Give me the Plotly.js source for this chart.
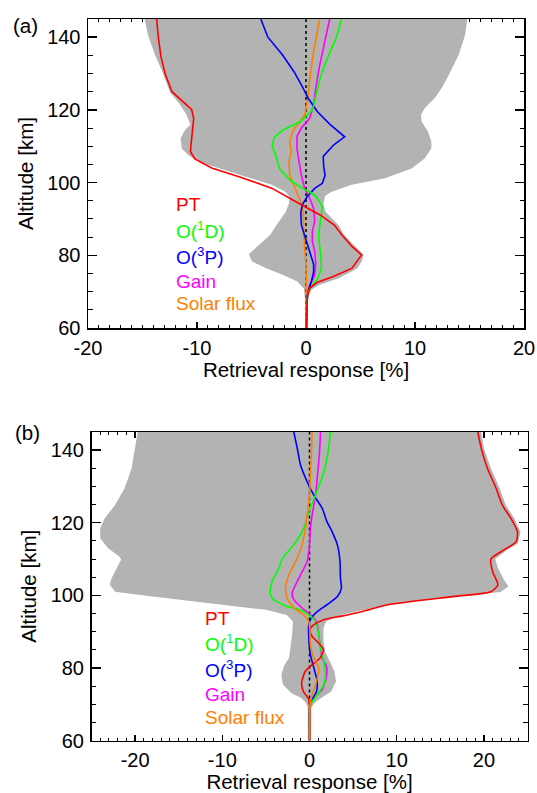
<!DOCTYPE html>
<html>
<head>
<meta charset="utf-8">
<script src="https://cdn.plot.ly/plotly-3.0.1.min.js"></script>
<style>html,body{margin:0;padding:0;background:#fff;}#chart{width:537px;height:793px;}</style>
</head>
<body>
<div id="chart"></div>
<script>
// ---------- Tick labels ----------
const xTickValsA = [-20, -10, 0, 10, 20];
const xTickTextA = ['-20', '-10', '0', '10', '20'];
const xTickValsB = [-20, -10, 0, 10, 20];
const xTickTextB = ['-20', '-10', '0', '10', '20'];
const yTickVals = [60, 80, 100, 120, 140];
const yTickText = ['60', '80', '100', '120', '140'];
const seriesNames = ['PT', 'O(<sup>1</sup>D)', 'O(<sup>3</sup>P)', 'Gain', 'Solar flux'];

// ---------- Panel (a) ----------
const ptA_alt = [145, 140, 134.5, 129.7, 125, 120.1, 117.7, 114, 110.4, 108.5, 106.5, 104, 101.5, 98.4, 95.8, 93.9, 91.1, 88.3, 85.6, 82.5, 80.1, 78.3, 76.4, 74.1, 72.5, 71, 69.5, 68.2, 66, 60];
const ptA_val = [-13.7, -13.55, -13.3, -12.9, -12.3, -10.5, -10.3, -10.45, -10.55, -10.6, -10.2, -8.65, -6.0, -3.1, -1.6, -0.43, 1.3, 2.6, 3.3, 4.2, 5.1, 4.7, 4.2, 2.45, 1.0, 0.35, 0.17, 0.12, 0.08, 0.06];

const o1dA_alt = [145, 140, 134.7, 130, 125, 120, 116.8, 114.5, 112.5, 110.2, 106.7, 103.7, 100.5, 98.4, 96.6, 95, 93.4, 89.3, 85.6, 82.5, 80.1, 76.4, 73.5, 71.8, 70, 67, 60];
const o1dA_val = [3.25, 2.8, 2.03, 1.42, 1.0, 0.6, -0.5, -2.1, -2.9, -3.1, -2.7, -2.4, -1.4, -0.3, 0.8, 1.2, 1.5, 1.35, 1.15, 1.25, 1.35, 1.42, 1.05, 0.6, 0.19, 0.06, 0.03];

const o3pA_alt = [145, 140, 135.1, 130.5, 126.5, 123.2, 119.5, 115.9, 112.6, 110.4, 107.2, 104.5, 102, 99.8, 98.4, 96.1, 93.9, 91.6, 88.3, 85.6, 83.8, 81, 77.5, 75.5, 72.8, 70.5, 68.2, 60];
const o3pA_val = [-4.15, -3.5, -2.15, -1.1, -0.35, 0.2, 1.05, 2.25, 3.55, 2.55, 1.58, 1.62, 1.75, 1.5, 0.8, 0.1, -0.34, -0.48, -0.42, -0.15, 0.05, 0.35, 0.7, 0.7, 0.5, 0.24, 0.09, 0.03];

const gainA_alt = [145, 140.6, 136.1, 131.5, 126, 121.4, 117.7, 115, 112.7, 109.4, 105.8, 102.1, 98.4, 95.7, 92.9, 89.3, 86.5, 83.8, 81, 77.8, 74.6, 71.8, 69.1, 60];
const gainA_val = [2.17, 1.87, 1.5, 1.2, 0.9, 0.7, 0.34, -0.43, -0.83, -0.83, -0.64, -0.43, -0.12, 0.34, 0.7, 0.8, 0.58, 0.58, 0.8, 0.9, 0.8, 0.34, 0.12, 0.03];

const solA_alt = [145, 140.6, 135.1, 129.6, 125, 122.3, 118.6, 116.8, 114, 111.3, 108.5, 105.8, 102.1, 99.4, 96.6, 93.9, 90.2, 85.6, 81.9, 78.3, 72.8, 60];
const solA_val = [1.25, 0.95, 0.64, 0.4, 0.24, 0.12, -0.12, -0.58, -1.25, -1.5, -1.35, -1.56, -1.5, -1.13, -0.73, -0.37, -0.21, -0.21, -0.12, -0.03, 0.03, 0.03];

const envA_left_alt = [145, 140.6, 135.1, 130.6, 125, 121.4, 118.6, 115.9, 114.5, 112.2, 109.4, 107.6, 105.8, 103.9, 101.7, 99.4, 97.5, 96.1, 94.3, 92, 90.2, 88.3, 85.6, 82.8, 80.3, 78.3, 76.4, 74.6, 72.8, 70.9, 69.5, 68.2, 60];
const envA_left_val = [-14.8, -14.5, -13.85, -13.2, -12.5, -11.55, -10.95, -10.6, -11.1, -11.5, -11.4, -10.8, -9.9, -8.0, -5.6, -3.15, -1.9, -1.5, -1.56, -1.85, -2.3, -2.7, -3.3, -4.35, -5.25, -4.95, -3.6, -2.1, -0.8, -0.2, -0.12, -0.09, -0.09];
const envA_right_alt = [145, 140.6, 135.1, 129.6, 126, 123.2, 120.5, 118.6, 116.8, 114, 111.3, 109.4, 106.7, 103.9, 101.2, 99.4, 97.5, 96.3, 94, 92, 90.2, 88.3, 85.6, 82.8, 80.1, 78.3, 76.4, 73.7, 71.8, 70.5, 69.1, 67.2, 60];
const envA_right_val = [14.8, 14.6, 14.0, 13.1, 12.45, 11.8, 10.9, 10.55, 10.6, 11.2, 11.5, 11.5, 10.9, 9.7, 7.25, 4.2, 2.35, 1.75, 1.6, 1.8, 2.35, 2.97, 3.5, 4.4, 5.3, 5.1, 4.7, 3.0, 1.2, 0.5, 0.3, 0.17, 0.15];

// ---------- Panel (b) ----------
const ptB_alt = [145, 140.5, 135, 129.5, 124.9, 121.2, 117.5, 114.8, 112.5, 110, 106.5, 102.9, 101, 99.7, 97.4, 95.5, 94.2, 93.3, 91.9, 90.5, 88.7, 86.8, 85, 82.7, 80.9, 79, 76, 73.5, 71.5, 69.9, 60];
const ptB_val = [19.3, 19.7, 20.4, 21.4, 22.1, 23.1, 23.85, 23.7, 22.3, 20.8, 21.0, 21.6, 20.8, 16.6, 9.0, 6.0, 3.5, 1.64, 0.5, 0.04, 0.3, 1.07, 1.6, 1.2, 0.3, -0.5, -0.9, -0.7, -0.12, 0, 0];

const o1dB_alt = [145, 140.5, 134, 127.6, 123, 118.5, 113.9, 110.2, 107.5, 103.8, 100.6, 98.8, 96.9, 96, 94.6, 92.8, 89.1, 85.5, 81.8, 78.1, 75.4, 72.6, 70.3, 69, 60];
const o1dB_val = [2.4, 2.2, 1.64, 0.69, -0.08, -0.65, -1.8, -3.1, -3.5, -4.3, -4.5, -4.1, -2.56, -1.03, -0.08, 0.69, 1.07, 1.26, 1.64, 1.83, 1.64, 0.88, 0.19, 0.04, 0];

const o3pB_alt = [145, 140.5, 135.9, 131.3, 127.6, 124, 120.3, 117.5, 113.9, 109.3, 104.7, 102, 99.7, 97.4, 95.5, 93.7, 91.9, 88.2, 83.6, 80, 76.3, 73.5, 71.3, 69.4, 60];
const o3pB_val = [-1.8, -1.4, -1.03, -0.27, 0.5, 1.45, 2.0, 2.6, 3.2, 3.5, 3.55, 3.66, 3.2, 2.0, 0.88, 0.19, -0.08, -0.08, 0.11, 0.5, 0.88, 0.8, 0.3, 0.04, 0];

const gainB_alt = [145, 139.5, 134, 127.6, 122.1, 118.5, 113.9, 109.3, 106.5, 102.9, 100.6, 98.8, 96.5, 94.6, 92.8, 89.1, 85.5, 82.7, 80.4, 77.7, 74, 72.2, 70.3, 69, 60];
const gainB_val = [1.26, 1.15, 0.95, 0.69, 0.3, 0.11, 0, -0.27, -0.84, -1.6, -2.0, -1.8, -0.84, 0.11, 0.8, 1.07, 1.26, 1.45, 1.95, 1.95, 1.45, 0.69, 0.19, 0.04, 0];

const solB_alt = [145, 139.5, 134, 127.6, 122.1, 118.5, 113.9, 109.3, 105.6, 102, 99.2, 96.5, 94.6, 92.8, 90, 86.4, 82.7, 80, 76.3, 72.6, 70.8, 69, 60];
const solB_val = [0.3, 0.23, 0.11, 0, -0.27, -0.46, -0.84, -1.6, -2.37, -2.75, -2.56, -1.8, -0.65, -0.08, 0.04, 0.11, 0.5, 1.07, 0.8, 0.3, 0.11, 0.04, 0];

const envB_left_alt = [145, 140.5, 135, 129.5, 124.9, 121.2, 118.5, 115.7, 113, 110.7, 109.8, 107.5, 104.7, 102.9, 101, 99.7, 97.8, 96, 94.6, 92.8, 89.1, 85.5, 82.7, 80.9, 78.1, 75.4, 73.1, 71.7, 70.3, 69, 60];
const envB_left_val = [-19.7, -20.0, -20.4, -21.2, -22.3, -23.5, -24.0, -24.0, -23.1, -21.8, -21.6, -22.1, -22.7, -22.9, -22.3, -18.0, -11.5, -5.0, -2.6, -1.9, -2.0, -2.15, -2.35, -2.86, -3.24, -3.05, -2.1, -0.95, -0.38, -0.19, -0.19];
const envB_right_alt = [145, 140.5, 135, 129.5, 124.9, 121.2, 117.5, 114.3, 112.2, 110, 107.5, 104.3, 102.4, 100.9, 99.7, 97.6, 94.6, 92.8, 91, 87.3, 84.5, 81.8, 79, 76.3, 73.5, 71.7, 70.3, 69, 60];
const envB_right_val = [19.7, 20.0, 20.8, 21.8, 22.5, 23.5, 24.2, 23.9, 22.5, 21.3, 21.6, 22.3, 22.8, 21.9, 16.8, 9.3, 3.6, 1.9, 1.6, 1.6, 1.8, 2.3, 2.86, 3.05, 2.5, 1.34, 0.57, 0.19, 0.19];

// ---------- Styling ----------
const colors = ['#ff0000', '#00ff00', '#0000ff', '#ff00ff', '#ff8000'];
const W = 537, H = 793;
const FONT = 'Liberation Sans, Arial, Helvetica, sans-serif';
const fx = p => p / W;
const fy = p => 1 - p / H;

function envelope(la, lv, ra, rv, xa, ya) {
  return {
    x: lv.concat(rv.slice().reverse()),
    y: la.concat(ra.slice().reverse()),
    xaxis: xa, yaxis: ya, mode: 'lines', fill: 'toself',
    fillcolor: '#b3b3b3', line: {width: 0, color: '#b3b3b3'},
    hoverinfo: 'skip', showlegend: false
  };
}
function line(vals, alts, color, xa, ya, shape) {
  return {x: vals, y: alts, xaxis: xa, yaxis: ya, mode: 'lines',
    line: {color: color, width: 1.6, shape: shape, smoothing: 0.6}, showlegend: false};
}
function zeroLine(xa, ya) {
  return {x: [0, 0], y: [60, 145], xaxis: xa, yaxis: ya, mode: 'lines',
    line: {color: '#000', width: 1.5, dash: 'dot'}, showlegend: false};
}

const data = [
  envelope(envA_left_alt, envA_left_val, envA_right_alt, envA_right_val, 'x', 'y'),
  zeroLine('x', 'y'),
  line(solA_val, solA_alt, colors[4], 'x', 'y', 'linear'),
  line(gainA_val, gainA_alt, colors[3], 'x', 'y', 'linear'),
  line(o3pA_val, o3pA_alt, colors[2], 'x', 'y', 'linear'),
  line(o1dA_val, o1dA_alt, colors[1], 'x', 'y', 'linear'),
  line(ptA_val, ptA_alt, colors[0], 'x', 'y', 'linear'),

  envelope(envB_left_alt, envB_left_val, envB_right_alt, envB_right_val, 'x2', 'y2'),
  zeroLine('x2', 'y2'),
  line(gainB_val, gainB_alt, colors[3], 'x2', 'y2', 'spline'),
  line(o3pB_val, o3pB_alt, colors[2], 'x2', 'y2', 'spline'),
  line(o1dB_val, o1dB_alt, colors[1], 'x2', 'y2', 'spline'),
  line(ptB_val, ptB_alt, colors[0], 'x2', 'y2', 'spline'),
  line(solB_val, solB_alt, colors[4], 'x2', 'y2', 'spline')
];

function xAxis(domain, range, tv, tt, anchor) {
  return {
    domain: domain, range: range, anchor: anchor,
    tickmode: 'array', tickvals: tv, ticktext: tt,
    ticks: 'inside', ticklen: 6, tickwidth: 1.5, tickcolor: '#000',
    minor: {dtick: 1, tick0: 0, ticks: 'inside', ticklen: 3, tickwidth: 1, tickcolor: '#000', showgrid: false},
    showline: true, linewidth: 1.5, linecolor: '#000', mirror: 'ticks',
    showgrid: false, zeroline: false, layer: 'below traces',
    ticklabelstandoff: 1,
    tickfont: {family: FONT, size: 20, color: '#000'},
    title: {text: 'Retrieval response [%]', font: {family: FONT, size: 20.5, color: '#000'}, standoff: 0}
  };
}
function yAxis(domain, anchor) {
  return {
    domain: domain, range: [60, 145], anchor: anchor,
    tickmode: 'array', tickvals: yTickVals, ticktext: yTickText,
    ticks: 'inside', ticklen: 9, tickwidth: 1.5, tickcolor: '#000',
    minor: {dtick: 5, tick0: 0, ticks: 'inside', ticklen: 4.5, tickwidth: 1, tickcolor: '#000', showgrid: false},
    showline: true, linewidth: 1.5, linecolor: '#000', mirror: 'ticks',
    showgrid: false, zeroline: false, layer: 'below traces',
    ticklabelstandoff: 2,
    tickfont: {family: FONT, size: 20, color: '#000'},
    title: {text: 'Altitude [km]', font: {family: FONT, size: 20.5, color: '#000'}, standoff: 8}
  };
}

const annotations = [];
annotations.push({xref: 'paper', yref: 'paper', x: fx(11), y: fy(25), xanchor: 'left', yanchor: 'middle',
  text: '(a)', showarrow: false, font: {family: FONT, size: 20.5, color: '#000'}});
annotations.push({xref: 'paper', yref: 'paper', x: fx(13), y: fy(432), xanchor: 'left', yanchor: 'middle',
  text: '(b)', showarrow: false, font: {family: FONT, size: 20.5, color: '#000'}});
const legA_y = [205, 230, 256, 281, 304];
const legB_y = [618, 643, 669, 694, 717];
seriesNames.forEach((n, i) => {
  annotations.push({xref: 'paper', yref: 'paper', x: fx(174), y: fy(legA_y[i]), xanchor: 'left', yanchor: 'middle',
    text: n, showarrow: false, font: {family: FONT, size: 19, color: colors[i]}});
  annotations.push({xref: 'paper', yref: 'paper', x: fx(203), y: fy(legB_y[i]), xanchor: 'left', yanchor: 'middle',
    text: n, showarrow: false, font: {family: FONT, size: 19, color: colors[i]}});
});

const layout = {
  width: W, height: H, margin: {l: 0, r: 0, t: 0, b: 0},
  paper_bgcolor: '#fff', plot_bgcolor: '#fff', showlegend: false,
  font: {family: FONT, color: '#000'},
  xaxis: xAxis([fx(88), fx(524)], [-20, 20], xTickValsA, xTickTextA, 'y'),
  yaxis: yAxis([fy(328), fy(19)], 'x'),
  xaxis2: xAxis([fx(91.5), fx(527.5)], [-25, 25], xTickValsB, xTickTextB, 'y2'),
  yaxis2: yAxis([fy(740.5), fy(432)], 'x2'),
  annotations: annotations
};

Plotly.newPlot('chart', data, layout, {staticPlot: true, displayModeBar: false});
</script>
</body>
</html>
